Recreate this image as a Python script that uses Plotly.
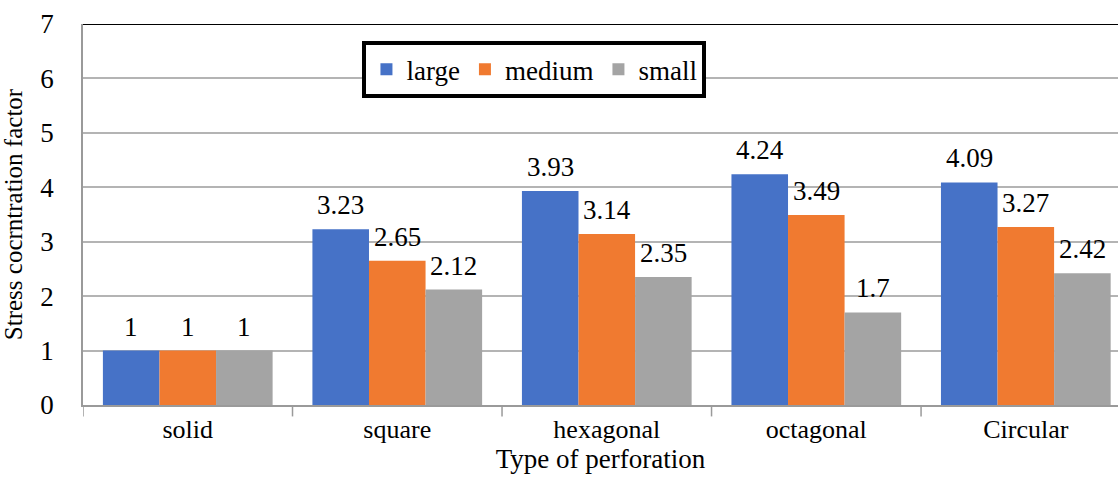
import plotly.graph_objects as go

categories = ["solid", "square", "hexagonal", "octagonal", "Circular"]
large = [1, 3.23, 3.93, 4.24, 4.09]
medium = [1, 2.65, 3.14, 3.49, 3.27]
small = [1, 2.12, 2.35, 1.7, 2.42]
y_ticks = [0, 1, 2, 3, 4, 5, 6, 7]

FONT = "Liberation Serif"
BARGAP = 0.19

series = [("large", large, "#4672c7"), ("medium", medium, "#f07a30"), ("small", small, "#a4a4a4")]

fig = go.Figure()
bar_w = (1 - BARGAP) / len(series)
for si, (name, vals, col) in enumerate(series):
    fig.add_trace(go.Bar(
        name=name, x=list(range(len(categories))), y=vals,
        marker=dict(color=col, line=dict(width=0)),
        hoverinfo="skip",
    ))
    off = (si - (len(series) - 1) / 2) * bar_w
    for ci, v in enumerate(vals):
        fig.add_annotation(
            x=ci + off, y=v, xref="x", yref="y", text=f"{v:g}", showarrow=False,
            yanchor="bottom", yshift=7, font=dict(family=FONT, size=27, color="#000"),
        )

fig.update_layout(
    width=1118, height=491, autosize=False,
    margin=dict(l=83, r=0, t=24, b=86),
    paper_bgcolor="white", plot_bgcolor="white",
    barmode="group", bargap=BARGAP, bargroupgap=0,
    font=dict(family=FONT, size=26, color="#000"),
    showlegend=True,
    legend=dict(
        orientation="h", x=0.27, y=0.955, xanchor="left", yanchor="top",
        bgcolor="white", bordercolor="black", borderwidth=4,
        font=dict(family=FONT, size=27),
        itemwidth=30, tracegroupgap=0,
    ),
    xaxis=dict(
        range=[-0.5, 4.44], showline=True, linecolor="#9a9a9a", linewidth=1.5,
        tickvals=list(range(len(categories))), ticktext=categories,
        ticks="", showgrid=False, zeroline=False, automargin=False,
        title=dict(text="Type of perforation", font=dict(family=FONT, size=27), standoff=4),
        tickfont=dict(family=FONT, size=26),
    ),
    yaxis=dict(
        range=[0, 7], tickvals=y_ticks, showline=True, linecolor="#9a9a9a", linewidth=1.5,
        showgrid=True, gridcolor="#b4b4b4", gridwidth=1.5, zeroline=False,
        ticklabelstandoff=22, automargin=False,
        title=dict(text="Stress cocrntration factor", font=dict(family=FONT, size=25), standoff=12),
        tickfont=dict(family=FONT, size=27),
    ),
    shapes=[dict(type="line", xref="paper", yref="y", x0=0, x1=1, y0=7, y1=7,
                 line=dict(color="black", width=2))],
)

# category boundary tick marks under the x axis
for i in range(len(categories) + 1):
    fig.add_shape(type="line", xref="x", yref="paper", x0=i - 0.5, x1=i - 0.5, y0=0, y1=-0.03,
                  line=dict(color="#9a9a9a", width=1.5))

fig.write_html(
    "out.html",
    config={"responsive": False, "displayModeBar": False},
    post_script="document.body.style.margin='0';document.body.style.padding='0';",
)
